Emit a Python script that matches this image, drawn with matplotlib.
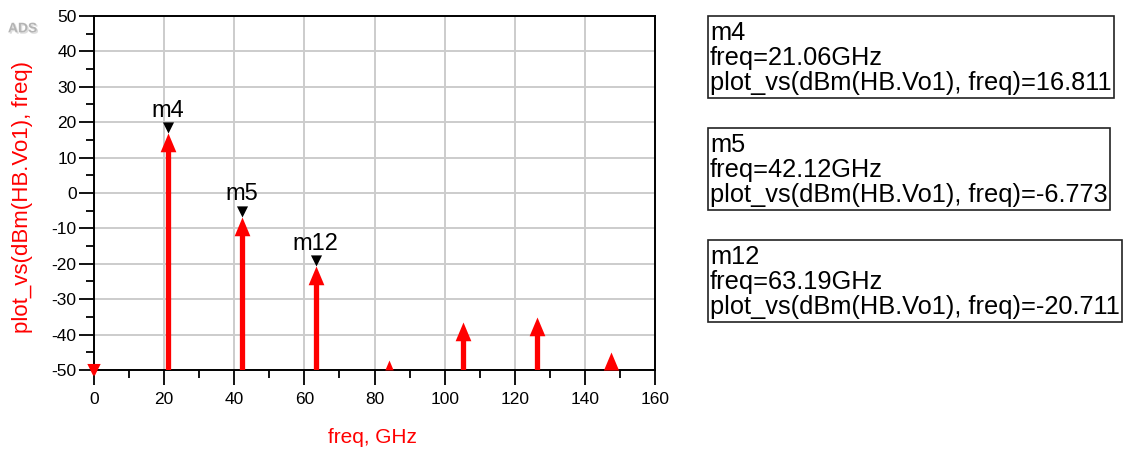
import matplotlib.pyplot as plt
from matplotlib.ticker import MultipleLocator
from matplotlib.path import Path
from matplotlib.patches import Rectangle
import matplotlib.patheffects as pe

plt.rcParams['font.family'] = ['Liberation Sans', 'DejaVu Sans']
plt.rcParams['axes.unicode_minus'] = False

# harmonic spectrum (freq in GHz, power in dBm)
freq = [0.0, 21.06, 42.12, 63.19, 84.25, 105.31, 126.37, 147.43]
power = [-100.0, 16.811, -6.773, -20.711, -47.2, -36.4, -35.0, -44.9]

# markers
mk_names = ['m4', 'm5', 'm12']
mk_freq = [21.06, 42.12, 63.19]
mk_val = [16.811, -6.773, -20.711]

ymin, ymax = -50, 50

# triangles anchored at their tip
tri_up = Path([(0, 0), (-0.42, -1), (0.42, -1), (0, 0)], closed=True)
tri_dn = Path([(0, 0), (-0.5, 1), (0.5, 1), (0, 0)], closed=True)

W, H = 1126, 449
fig = plt.figure(figsize=(W / 100, H / 100), dpi=100)
ax = fig.add_axes([0.0835, 0.176, 0.4982, 0.7884])

ax.set_xlim(0, 160)
ax.set_ylim(ymin, ymax)
ax.xaxis.set_major_locator(MultipleLocator(20))
ax.xaxis.set_minor_locator(MultipleLocator(10))
ax.yaxis.set_major_locator(MultipleLocator(10))
ax.yaxis.set_minor_locator(MultipleLocator(5))
ax.grid(True, which='major', color='#cccccc', lw=1.4)
ax.set_axisbelow(True)
for s in ax.spines.values():
    s.set_linewidth(1.4)
ax.tick_params(which='major', length=11, width=1.3, labelsize=12.5)
ax.tick_params(which='minor', length=5.5, width=1.3)
ax.tick_params(axis='y', pad=1.5)
ax.tick_params(axis='x', pad=5)

# points per dB on the y axis
pt_per_db = ax.get_position().height * fig.get_figheight() * 72 / (ymax - ymin)
head_full = 13.5  # head height in points

for f, p in zip(freq, power):
    if p > ymin:
        length = (p - ymin) * pt_per_db
        head = min(head_full, length)
        stem_top = max(p - head / pt_per_db, ymin)
        ax.vlines(f, ymin, stem_top + 0.5, color='red', lw=3.8, zorder=4)
        ax.plot(f, p, marker=tri_up, ms=2 * head, color='red', mew=0, zorder=5)
    else:
        ax.plot(f, ymin, marker='v', color='red', ms=7, mew=1.5, clip_on=False, zorder=5)

# marker triangles + labels
for name, f, v in zip(mk_names, mk_freq, mk_val):
    ax.plot(f, v, marker=tri_dn, ms=16, color='black', mew=0, zorder=6)
    ax.annotate(name, (f, v), xytext=(0, 12), textcoords='offset points',
                ha='center', va='baseline', fontsize=17)

ax.set_xlabel('freq, GHz', color='red', fontsize=15)
ax.xaxis.set_label_coords(0.497, -0.165)
ax.set_ylabel('plot_vs(dBm(HB.Vo1), freq)', color='red', fontsize=16)
ax.yaxis.set_label_coords(-0.109, 0.49)

fig.text(0.007, 0.928, 'ADS', color='#b4b4b4', fontsize=10, fontweight='bold',
         path_effects=[pe.withSimplePatchShadow(offset=(1, -1), shadow_rgbFace='#dddddd', alpha=1)])

# marker readout boxes, sized to their text
renderer = fig.canvas.get_renderer()
box_top = [16, 128, 240]
for name, f, v, top in zip(mk_names, mk_freq, mk_val, box_top):
    txt = '%s\nfreq=%.2fGHz\nplot_vs(dBm(HB.Vo1), freq)=%.3f' % (name, f, v)
    t = fig.text(710 / W, 1 - (top + 5) / H, txt, ha='left', va='top', fontsize=18.3,
                 linespacing=1.04, zorder=3)
    bb = t.get_window_extent(renderer)
    fig.patches.append(Rectangle(((bb.x0 - 2) / W, (bb.y0 - 3) / H),
                                 (bb.width + 4) / W, (bb.y1 - bb.y0 + 8) / H,
                                 transform=fig.transFigure, fc='white', ec='#222222',
                                 lw=1.2, zorder=2))

fig.savefig('out.png', dpi=100)
